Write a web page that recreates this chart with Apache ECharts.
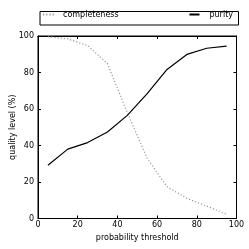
<!DOCTYPE html>
<html><head><meta charset="utf-8">
<script src="https://cdn.jsdelivr.net/npm/echarts@6/dist/echarts.min.js"></script>
<style>html,body{margin:0;padding:0;background:#fff}#c{width:249px;height:249px}</style>
</head><body><div id="c"></div>
<script>
const thresholds = [5, 15, 25, 35, 45, 55, 65, 75, 85, 95];
const completeness = [99.6, 98.4, 94.8, 84.8, 58.0, 33.0, 17.4, 11.0, 6.8, 2.3];
const purity = [29.2, 38.0, 41.6, 47.4, 56.5, 68.4, 81.7, 89.9, 93.3, 94.4];
const xTicks = [0, 20, 40, 60, 80, 100];
const yTicks = [0, 20, 40, 60, 80, 100];

const font = 'DejaVu Sans';
const chart = echarts.init(document.getElementById('c'), null, {renderer: 'canvas'});
function makeAxis(extra, tickLen) {
  return Object.assign({
    type: 'value', min: 0, max: 100, interval: 20, gridIndex: 0,
    axisLine: {show: true, onZero: false, lineStyle: {color: '#000', width: 1}},
    axisTick: {show: true, inside: true, length: tickLen, lineStyle: {color: '#000', width: 1}},
    splitLine: {show: false},
    nameMoveOverlap: false,
    nameTextStyle: {fontFamily: font, fontSize: 8, color: '#000'}
  }, extra);
}
chart.setOption({
  animation: false,
  backgroundColor: '#fff',
  grid: {left: 38, right: 12.5, top: 36, bottom: 30.5, containLabel: false, outerBoundsMode: 'none',
    show: true, borderColor: '#000', borderWidth: 1, backgroundColor: 'transparent'},
  xAxis: [
    makeAxis({position: 'bottom', name: 'probability threshold', nameLocation: 'middle', nameGap: 15,
      axisLabel: {fontFamily: font, fontSize: 8, color: '#000', margin: 2,
        formatter: v => xTicks.includes(v) ? String(v) : ''}}, 3),
    makeAxis({position: 'top', axisLabel: {show: false}}, 3)
  ],
  yAxis: [
    makeAxis({position: 'left', name: 'quality level (%)', nameLocation: 'middle', nameGap: 21,
      axisLabel: {fontFamily: font, fontSize: 8, color: '#000', margin: 4,
        formatter: v => yTicks.includes(v) ? String(v) : ''}}, 3),
    makeAxis({position: 'right', axisLabel: {show: false}}, 3)
  ],
  graphic: [{type: 'rect', left: 37.5, top: 9, shape: {width: 198.5, height: 13.5},
    style: {fill: 'none', stroke: '#000', lineWidth: 1}, z: 1}],
  legend: [
    {data: ['completeness'], left: 42, top: 10.5, itemWidth: 12, itemHeight: 10, padding: 0,
      itemStyle: {opacity: 0},
      textStyle: {fontFamily: font, fontSize: 8, color: '#000', padding: [0, 0, 0, 3]}},
    {data: ['purity'], right: 16, top: 10.5, itemWidth: 10, itemHeight: 10, padding: 0,
      itemStyle: {opacity: 0},
      textStyle: {fontFamily: font, fontSize: 8, color: '#000', padding: [0, 0, 0, 5]}}
  ],
  series: [
    {name: 'completeness', type: 'line', symbol: 'none', xAxisIndex: 0, yAxisIndex: 0,
      data: thresholds.map((t, i) => [t, completeness[i]]),
      lineStyle: {color: '#999', width: 1.2, type: [1.2, 2]}, itemStyle: {color: '#999'}},
    {name: 'purity', type: 'line', symbol: 'none', xAxisIndex: 0, yAxisIndex: 0,
      data: thresholds.map((t, i) => [t, purity[i]]),
      lineStyle: {color: '#000', width: 1.2}, itemStyle: {color: '#000'}}
  ]
});
</script></body></html>
